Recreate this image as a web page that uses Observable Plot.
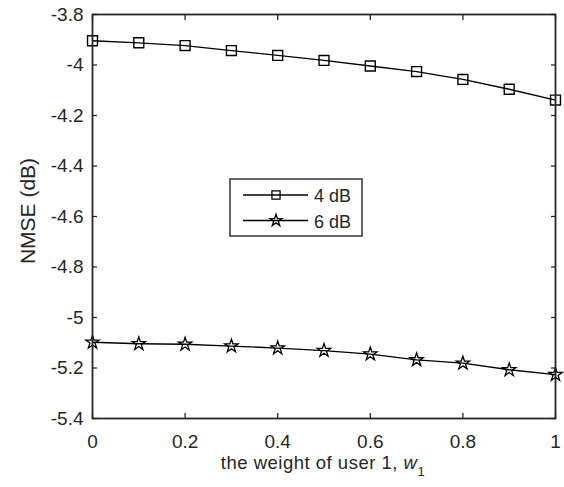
<!DOCTYPE html>
<html><head><meta charset="utf-8">
<script src="https://cdn.jsdelivr.net/npm/d3@7"></script>
<script src="https://cdn.jsdelivr.net/npm/@observablehq/plot@0.6"></script>
<style>body{margin:0;background:#fff;overflow:hidden}#chart{position:relative;width:564px;height:487px}svg{display:block}</style>
</head><body><div id="chart"></div>
<script>
const weights = [0, 0.1, 0.2, 0.3, 0.4, 0.5, 0.6, 0.7, 0.8, 0.9, 1];
const nmse4dB = [-3.904, -3.912, -3.923, -3.943, -3.962, -3.982, -4.004, -4.026, -4.057, -4.096, -4.139];
const nmse6dB = [-5.098, -5.104, -5.106, -5.113, -5.121, -5.131, -5.145, -5.168, -5.181, -5.207, -5.226];
const seriesNames = ["4 dB", "6 dB"];
const xTicks = [0, 0.2, 0.4, 0.6, 0.8, 1];
const yTicks = [-5.4, -5.2, -5, -4.8, -4.6, -4.4, -4.2, -4, -3.8];

const d4 = weights.map((w, i) => ({w, v: nmse4dB[i]}));
const d6 = weights.map((w, i) => ({w, v: nmse6dB[i]}));
const ink = "#262626";
const fmt = d => String(d);
const none = () => "";

const plot = Plot.plot({
  width: 564, height: 487,
  marginLeft: 92, marginRight: 9, marginTop: 14, marginBottom: 69,
  style: {fontFamily: "'Liberation Sans', Arial, sans-serif", background: "#fff"},
  x: {domain: [0, 1]},
  y: {domain: [-5.4, -3.8]},
  marks: [
    Plot.axisX(xTicks, {anchor: "bottom", tickSize: 5, dy: -5, tickFormat: none, stroke: ink, strokeWidth: 1.3, label: null}),
    Plot.axisX(xTicks, {anchor: "top", tickSize: 5, dy: 5, tickFormat: none, stroke: ink, strokeWidth: 1.3, label: null}),
    Plot.axisY(yTicks, {anchor: "left", tickSize: 5, dx: 5, tickFormat: none, stroke: ink, strokeWidth: 1.3, label: null}),
    Plot.axisY(yTicks, {anchor: "right", tickSize: 5, dx: -5, tickFormat: none, stroke: ink, strokeWidth: 1.3, label: null}),
    Plot.text(xTicks, {x: d => d, text: fmt, frameAnchor: "bottom", lineAnchor: "top", dy: 16, fontSize: 19, fill: ink}),
    Plot.text(yTicks, {y: d => d, text: fmt, frameAnchor: "left", textAnchor: "end", dx: -9, fontSize: 19, fill: ink}),
    Plot.line(d4, {x: "w", y: "v", stroke: "black", strokeWidth: 1.3}),
    Plot.line(d6, {x: "w", y: "v", stroke: "black", strokeWidth: 1.3}),
    Plot.dot(d4, {x: "w", y: "v", symbol: "square", r: 5.6, stroke: "black", fill: "none", strokeWidth: 1.4}),
    Plot.dot(d6, {x: "w", y: "v", symbol: "star", r: 4.2, stroke: "black", fill: "none", strokeWidth: 1.3}),
    Plot.frame({stroke: ink, strokeWidth: 1.8})
  ]
});
document.getElementById("chart").appendChild(plot);

const svg = d3.select(plot);

// axis titles
const xl = svg.append("text").attr("x", 323).attr("y", 469).attr("text-anchor", "middle")
  .attr("fill", ink).style("font-size", "18.5px").style("letter-spacing", "0.5px");
xl.append("tspan").text("the weight of user 1, ");
xl.append("tspan").attr("font-style", "italic").text("w");
xl.append("tspan").attr("dy", 7).style("font-size", "13px").text("1");
svg.append("text").attr("transform", "translate(35,211) rotate(-90)").attr("text-anchor", "middle")
  .attr("fill", ink).style("font-size", "21px").text("NMSE (dB)");

// legend
const lg = svg.append("g");
lg.append("rect").attr("x", 230).attr("y", 179).attr("width", 132).attr("height", 57)
  .attr("fill", "#fff").attr("stroke", ink).attr("stroke-width", 1.4);
const symbols = [d3.symbolSquare, d3.symbolStar];
const sizes = [Math.PI * 4.6 * 4.6, Math.PI * 3.8 * 3.8];
seriesNames.forEach((name, i) => {
  const yy = 195 + i * 25.5;
  lg.append("line").attr("x1", 243).attr("x2", 308).attr("y1", yy).attr("y2", yy)
    .attr("stroke", "black").attr("stroke-width", 1.3);
  lg.append("path").attr("d", d3.symbol(symbols[i], sizes[i])()).attr("transform", `translate(276,${yy})`)
    .attr("fill", "none").attr("stroke", "black").attr("stroke-width", 1.3);
  lg.append("text").attr("x", 314).attr("y", yy + 7).attr("text-anchor", "start")
    .attr("fill", ink).style("font-size", "18px").text(name);
});
</script></body></html>
